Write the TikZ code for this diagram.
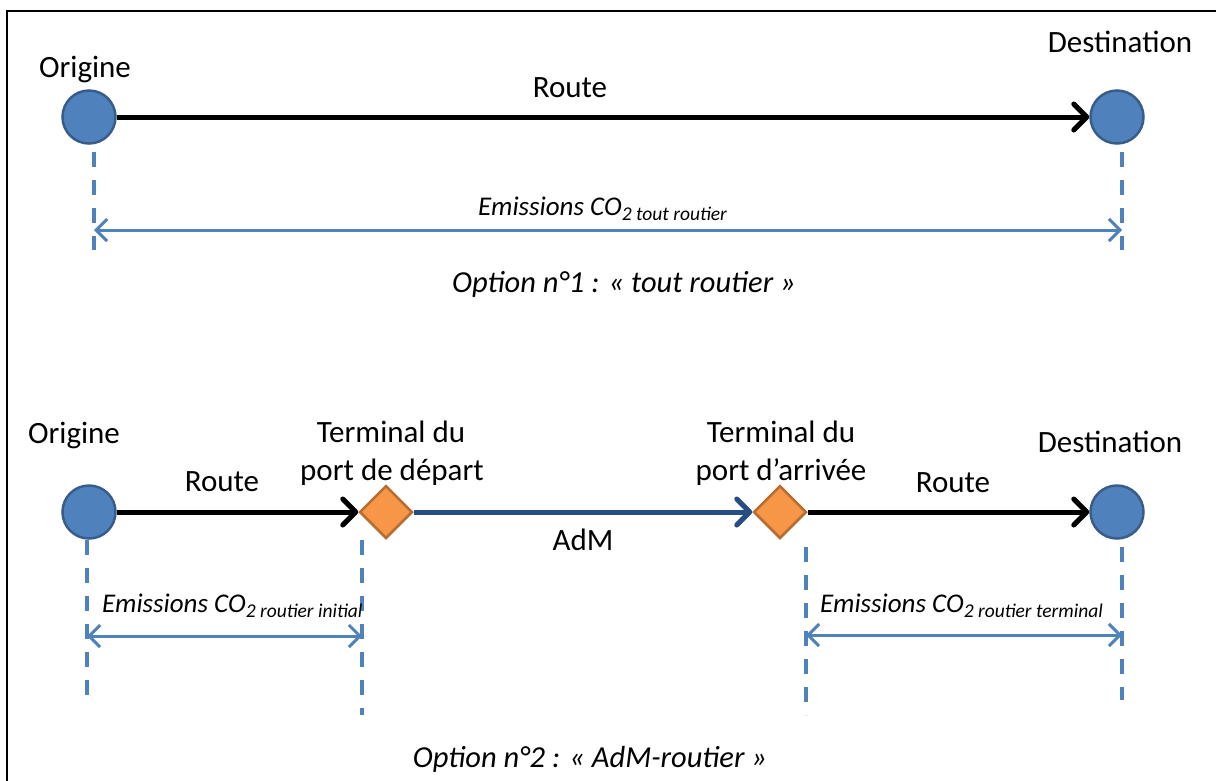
\documentclass[tikz,border=0pt]{standalone}
\usepackage{fontspec}
\setmainfont{Carlito}
\usetikzlibrary{shapes.geometric,arrows.meta}
\definecolor{cblue}{HTML}{4F81BD}
\definecolor{cbluedk}{HTML}{385D8A}
\definecolor{corange}{HTML}{F79646}
\definecolor{corangedk}{HTML}{B66D31}
\definecolor{cnavy}{HTML}{264E82}
\newcommand{\emis}[1]{Emissions CO\raisebox{-5pt}{\fontsize{19.5}{20}\selectfont\itshape 2 #1}}
\begin{document}
\begin{tikzpicture}[x=1pt,y=-1pt,
  place/.style={circle, fill=cblue, draw=cbluedk, line width=2.5pt, minimum size=53pt, inner sep=0pt},
  port/.style={diamond, aspect=1, fill=corange, draw=corangedk, line width=2.5pt, minimum width=53pt, minimum height=53pt, inner sep=0pt},
  lbl/.style={anchor=base, inner sep=0pt, font=\fontsize{31}{36}\selectfont},
  emlbl/.style={anchor=base west, inner sep=0pt, font=\fontsize{27}{30}\selectfont\itshape},
  optlbl/.style={anchor=base, inner sep=0pt, font=\fontsize{30.5}{36}\selectfont\itshape},
  road/.style={draw=black, line width=5pt, -{Straight Barb[length=13pt,width=26pt,line join=round,line cap=round]}},
  sea/.style={road, draw=cnavy},
  guide/.style={draw=cblue, line width=3.5pt, dash pattern=on 15pt off 13pt},
  span/.style={draw=cblue, line width=3pt, {Straight Barb[length=11pt,width=22pt]}-{Straight Barb[length=11pt,width=22pt]}}
]
\clip (0,0) rectangle (1216,780);
\fill[white] (0,0) rectangle (1216,780);
% frame
\draw[line width=2.5pt] (7,800) -- (7,11) -- (1240,11);

% ---------- Option 1 ----------
\node[place] (o1) at (89,117) {};
\node[place] (d1) at (1117,117) {};
\draw[road] (o1) -- (d1);
\node[lbl] (lo1) at (85,77) {Origine};
\node[lbl] (ld1) at (1120,52) {Destination};
\node[lbl] (lr1) at (570,97) {Route};

\coordinate (g1a) at (94,152);
\coordinate (g1b) at (94,250);
\coordinate (g1c) at (1122,152);
\coordinate (g1d) at (1122,250);
\draw[guide] (g1a) -- (g1b);
\draw[guide] (g1c) -- (g1d);
\coordinate (s1a) at (94,230);
\coordinate (s1b) at (1122,230);
\draw[span] (s1a) -- (s1b);
\node[emlbl] (e1) at (478,215) {\emis{tout routier}};
\node[optlbl] (opt1) at (624,292) {Option n°1 : « tout routier »};

% ---------- Option 2 ----------
\node[place] (o2) at (89,512) {};
\node[port] (p1) at (386,512) {};
\node[port] (p2) at (780,512) {};
\node[place] (d2) at (1117,512) {};
\draw[road] (o2) -- (p1);
\draw[sea] (p1) -- (p2);
\draw[road] (p2) -- (d2);

\node[lbl] (lo2) at (74,443) {Origine};
\node[lbl] (lp1a) at (391,442) {Terminal du};
\node[lbl] (lp1b) at (392,480) {port de départ};
\node[lbl] (lp2a) at (781,442) {Terminal du};
\node[lbl] (lp2b) at (781,480) {port d’arrivée};
\node[lbl] (ld2) at (1110,452) {Destination};
\node[lbl] (lr2) at (222,491) {Route};
\node[lbl] (lr3) at (953,492) {Route};
\node[lbl] (ladm) at (583,550) {AdM};

\coordinate (g2a) at (87,540);
\coordinate (g2b) at (87,707);
\coordinate (g2c) at (362,540);
\coordinate (g2d) at (362,715);
\coordinate (g2e) at (806,547);
\coordinate (g2f) at (806,715);
\coordinate (g2g) at (1122,547);
\coordinate (g2h) at (1122,700);
\draw[guide] (g2a) -- (g2b);
\draw[guide] (g2c) -- (g2d);
\draw[guide] (g2e) -- (g2f);
\draw[guide] (g2g) -- (g2h);
\coordinate (s2a) at (87,636);
\coordinate (s2b) at (362,636);
\coordinate (s2c) at (806,635);
\coordinate (s2d) at (1122,635);
\draw[span] (s2a) -- (s2b);
\draw[span] (s2c) -- (s2d);
\node[emlbl] (e2) at (102,612) {\emis{routier initial}};
\node[emlbl] (e3) at (820,612) {\emis{routier terminal}};
\node[optlbl] (opt2) at (590,767) {Option n°2 : « AdM-routier »};
\end{tikzpicture}
\end{document}
